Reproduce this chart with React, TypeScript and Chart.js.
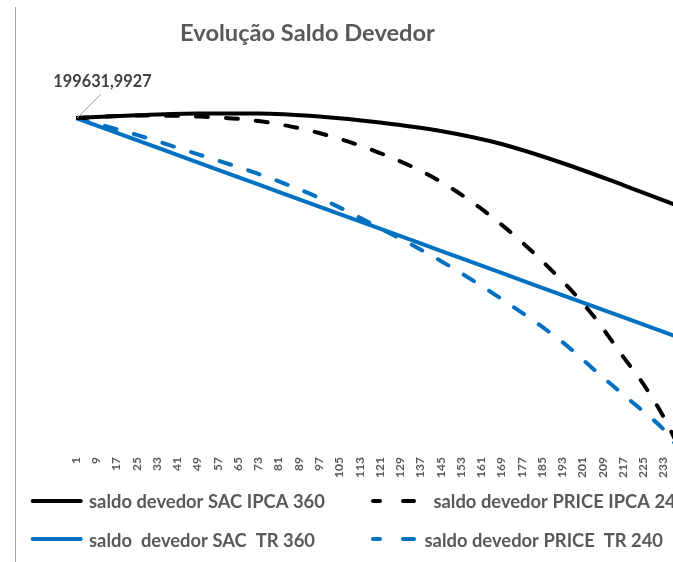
import React, { useEffect, useRef } from "react";
import { Chart, registerables } from "chart.js";

Chart.register(...registerables);

// ---- data ----
const chartTitle = "Evolução Saldo Devedor";
const seriesNames = [
  "saldo devedor SAC IPCA 360",
  " saldo devedor PRICE IPCA 240",
  "saldo  devedor SAC  TR 360",
  "saldo devedor PRICE  TR 240",
];
const sacPeriods = [1, 25, 49, 73, 97, 121, 145, 169, 193, 217, 241];
const pricePeriods = [1, 25, 49, 73, 97, 121, 145, 169, 193, 205, 217, 225, 233, 240];
const sacIpca360 = [199631.9927, 201250, 202320, 202320, 200530, 196940, 191860, 184090, 172740, 159590, 145840];
const priceIpca240 = [199631.9927, 201120, 200530, 197840, 190660, 178710, 161620, 135920, 102210, 81880, 57020, 40640, 20920, 0];
const sacTr360 = [199631.9927, 186420, 173150, 159940, 146730, 133470, 120260, 107050, 93780, 80570, 67300];
const priceTr240 = [199631.9927, 189530, 178000, 166220, 151940, 133760, 114220, 91450, 65750, 49970, 34370, 24210, 13450, 0];
const xTickLabels = [1, 9, 17, 25, 33, 41, 49, 57, 65, 73, 81, 89, 97, 105, 113, 121, 129, 137, 145, 153, 161, 169, 177, 185, 193, 201, 209, 217, 225, 233, 241];

const BLACK = "#000000";
const BLUE = "#0070C0";
const GREY_TEXT = "#595959";
const FONT = '"Lato", "Liberation Sans", sans-serif';

function toPoints(xs: number[], ys: number[]) {
  return xs.map((x, i) => ({ x, y: ys[i] }));
}

function fittedSize(ctx: CanvasRenderingContext2D, text: string, weight: string, target: number) {
  ctx.font = `${weight} 100px ${FONT}`;
  const w = ctx.measureText(text).width;
  return (100 * target) / w;
}

const decorPlugin = {
  id: "decor",
  afterDraw(chart: any) {
    const ctx: CanvasRenderingContext2D = chart.ctx;
    const xs = chart.scales.x;
    const ys = chart.scales.y;
    ctx.save();

    // left border of the chart frame
    ctx.strokeStyle = "#A6A6A6";
    ctx.lineWidth = 1;
    ctx.beginPath();
    ctx.moveTo(15.5, 7);
    ctx.lineTo(15.5, 562);
    ctx.stroke();

    // title
    const ts = fittedSize(ctx, chartTitle, "bold", 255);
    ctx.font = `bold ${ts}px ${FONT}`;
    ctx.fillStyle = GREY_TEXT;
    ctx.textAlign = "center";
    ctx.textBaseline = "alphabetic";
    ctx.fillText(chartTitle, 307.5, 40.7);

    // data label of the first point
    const px = xs.getPixelForValue(sacPeriods[0]);
    const py = ys.getPixelForValue(sacIpca360[0]);
    ctx.strokeStyle = "#A6A6A6";
    ctx.lineWidth = 1;
    ctx.beginPath();
    ctx.moveTo(px + 1, py);
    ctx.lineTo(px + 25, py - 24);
    ctx.stroke();
    const label = sacIpca360[0].toFixed(4).replace(".", ",");
    const ls = fittedSize(ctx, label, "bold", 98.4);
    ctx.font = `bold ${ls}px ${FONT}`;
    ctx.fillStyle = "#404040";
    ctx.textAlign = "center";
    ctx.fillText(label, px + 26.5, py - 31);

    // legend
    const gs = fittedSize(ctx, seriesNames[0], "bold", 236);
    const lineX = [31.7, 367, 31.7, 367];
    const textX = [89, 429, 89, 424.5];
    const lineY = [501, 501, 539, 539];
    const baseY = [508.3, 508.3, 547.3, 547.3];
    const colors = [BLACK, BLACK, BLUE, BLUE];
    const dashed = [false, true, false, true];
    for (let i = 0; i < 4; i++) {
      ctx.strokeStyle = colors[i];
      ctx.lineWidth = 4;
      ctx.lineCap = "round";
      ctx.beginPath();
      if (dashed[i]) {
        ctx.moveTo(lineX[i] + 6, lineY[i]);
        ctx.lineTo(lineX[i] + 13, lineY[i]);
        ctx.moveTo(lineX[i] + 36, lineY[i]);
        ctx.lineTo(lineX[i] + 47, lineY[i]);
      } else {
        ctx.moveTo(lineX[i] + 1, lineY[i]);
        ctx.lineTo(lineX[i] + 49, lineY[i]);
      }
      ctx.stroke();
      ctx.font = `bold ${gs}px ${FONT}`;
      ctx.fillStyle = GREY_TEXT;
      ctx.textAlign = "left";
      ctx.fillText(seriesNames[i], textX[i], baseY[i]);
    }
    ctx.restore();
  },
};

export default function App() {
  const ref = useRef<HTMLCanvasElement>(null);

  useEffect(() => {
    const canvas = ref.current!;
    const lineBase = {
      borderWidth: 4,
      pointRadius: 0,
      cubicInterpolationMode: "monotone" as const,
      fill: false,
    };
    const chart = new Chart(canvas, {
      type: "line",
      data: {
        datasets: [
          { ...lineBase, label: seriesNames[0], data: toPoints(sacPeriods, sacIpca360), borderColor: BLACK },
          {
            ...lineBase,
            label: seriesNames[1],
            data: toPoints(pricePeriods, priceIpca240),
            borderColor: BLACK,
            borderDash: [12, 18],
            borderCapStyle: "round",
          },
          { ...lineBase, label: seriesNames[2], data: toPoints(sacPeriods, sacTr360), borderColor: BLUE },
          {
            ...lineBase,
            label: seriesNames[3],
            data: toPoints(pricePeriods, priceTr240),
            borderColor: BLUE,
            borderDash: [12, 18],
            borderCapStyle: "round",
          },
        ],
      },
      options: {
        responsive: false,
        animation: false,
        devicePixelRatio: 1,
        layout: { padding: { left: 76, right: 20, top: 100, bottom: 70 } },
        plugins: {
          legend: { display: false },
          title: { display: false },
          tooltip: { enabled: false },
        },
        scales: {
          x: {
            type: "linear",
            min: 1,
            max: 245,
            grid: { display: false, drawTicks: false },
            border: { display: false },
            afterBuildTicks: (s: any) => {
              s.ticks = xTickLabels.map((v) => ({ value: v }));
            },
            afterFit: (s: any) => {
              s.height = 40;
            },
            ticks: {
              autoSkip: false,
              minRotation: 90,
              maxRotation: 90,
              padding: 5,
              color: GREY_TEXT,
              font: { family: FONT, size: 12, weight: "bold" },
              callback: (v: any) => String(v),
            },
          },
          y: { display: false, min: 0, max: 210400 },
        },
      },
      plugins: [decorPlugin],
    });
    return () => chart.destroy();
  }, []);

  return (
    <div
      style={{
        position: "fixed",
        left: 0,
        top: 0,
        width: 673,
        height: 562,
        overflow: "hidden",
        background: "#ffffff",
      }}
    >
      <canvas ref={ref} width={714} height={562} style={{ display: "block" }} />
    </div>
  );
}
